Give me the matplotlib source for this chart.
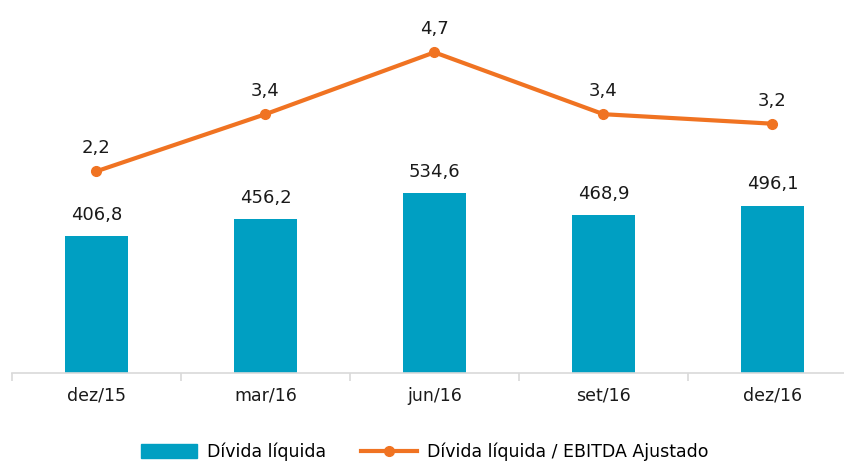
import matplotlib
matplotlib.use("Agg")
import matplotlib.pyplot as plt
from matplotlib.lines import Line2D
from matplotlib.patches import Patch

categories = ["dez/15", "mar/16", "jun/16", "set/16", "dez/16"]
divida = [406.8, 456.2, 534.6, 468.9, 496.1]
ratio = [2.2, 3.4, 4.7, 3.4, 3.2]

bar_color = "#009FC2"
line_color = "#F07322"

def fmt(v):
    return f"{v:.1f}".replace(".", ",")

plt.rcParams['font.family'] = ['DejaVu Sans']
fig = plt.figure(figsize=(8.45, 4.63), dpi=100)
ax = fig.add_axes([12/845, 90/463, 833/845, 373/463])
x = list(range(len(categories)))
ax.bar(x, divida, width=0.37, color=bar_color, zorder=2)
ax.set_xlim(-0.5, 4.43)
ax.set_ylim(0, 1108)
for s in ["top", "right", "left"]:
    ax.spines[s].set_visible(False)
ax.spines["bottom"].set_color("#D9D9D9")
ax.spines["bottom"].set_linewidth(1.2)
ax.set_yticks([])
ax.set_xticks(x)
ax.set_xticklabels(categories, fontsize=12.5, color="#1a1a1a")
ax.tick_params(axis="x", which="major", length=0, pad=10)
ax.set_xticks([i - 0.5 for i in range(len(categories))], minor=True)
ax.tick_params(axis="x", which="minor", length=6, color="#D9D9D9", width=1.2)
for xi, v in zip(x, divida):
    ax.annotate(fmt(v), (xi, v), xytext=(0, 9), textcoords="offset points",
                ha="center", va="bottom", fontsize=13, color="#1a1a1a")

ax2 = ax.twinx()
ax2.set_ylim(-2.04, 5.8)
ax2.axis("off")
ax2.plot(x, ratio, color=line_color, lw=3, marker="o", markersize=7, zorder=3)
for xi, v in zip(x, ratio):
    ax2.annotate(fmt(v), (xi, v), xytext=(0, 10), textcoords="offset points",
                 ha="center", va="bottom", fontsize=13, color="#1a1a1a")

handles = [Patch(color=bar_color),
           Line2D([0], [0], color=line_color, lw=3, marker="o", markersize=7)]
fig.legend(handles, ["Dívida líquida", "Dívida líquida / EBITDA Ajustado"],
           loc="center", bbox_to_anchor=(425/845, 1 - 452/463), ncol=2, frameon=False,
           fontsize=12.5, handlelength=3.2, handleheight=0.9, columnspacing=2.0,
           handletextpad=0.6)
fig.savefig("out.png", dpi=100)
